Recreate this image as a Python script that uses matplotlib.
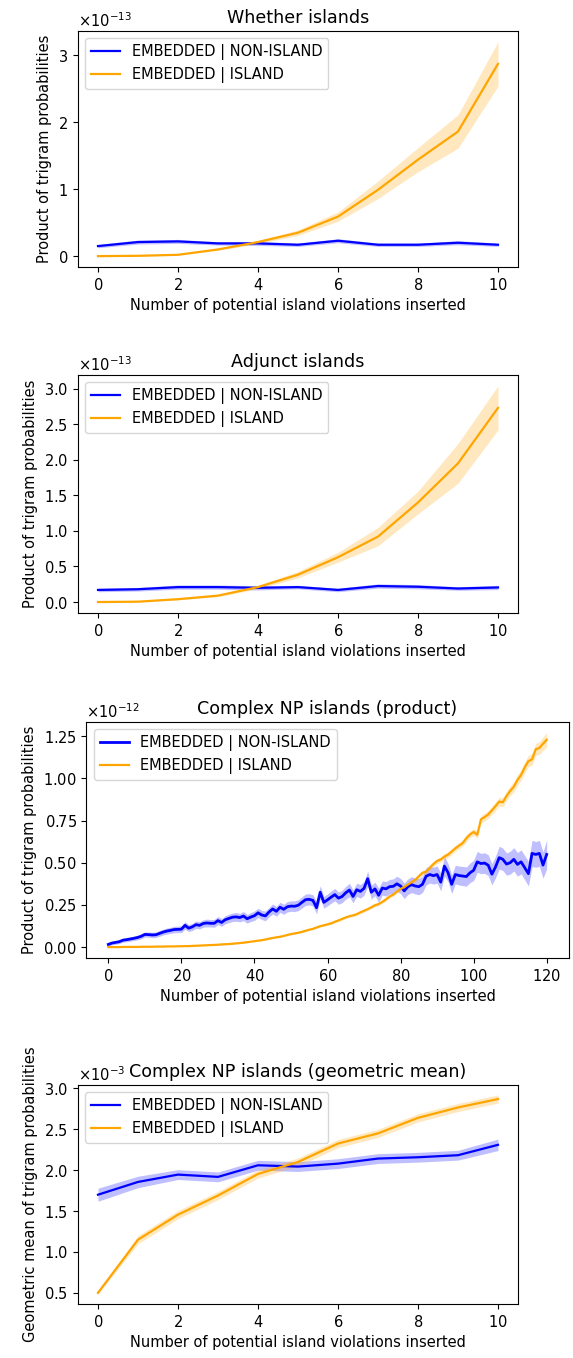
import matplotlib
matplotlib.use("Agg")
import matplotlib.pyplot as plt
import numpy as np

plt.rcParams['axes.formatter.use_mathtext'] = True
plt.rcParams['font.size'] = 10.5

xlabel = "Number of potential island violations inserted"
lab_non = "EMBEDDED | NON-ISLAND"
lab_isl = "EMBEDDED | ISLAND"

# panel 1: Whether islands (x 1e-13)
x_small = list(range(11))
wh_non = [0.15, 0.21, 0.22, 0.19, 0.19, 0.17, 0.23, 0.17, 0.17, 0.20, 0.17]
wh_non_err = [0.025, 0.03, 0.03, 0.025, 0.03, 0.025, 0.03, 0.025, 0.025, 0.03, 0.025]
wh_isl = [0.0, 0.005, 0.02, 0.10, 0.21, 0.35, 0.59, 0.99, 1.44, 1.86, 2.87]
wh_isl_err = [0.002, 0.003, 0.006, 0.015, 0.025, 0.04, 0.07, 0.13, 0.18, 0.25, 0.33]

# panel 2: Adjunct islands (x 1e-13)
adj_non = [0.17, 0.18, 0.21, 0.21, 0.20, 0.21, 0.17, 0.225, 0.215, 0.19, 0.205]
adj_non_err = [0.025, 0.025, 0.03, 0.03, 0.03, 0.025, 0.025, 0.03, 0.03, 0.025, 0.03]
adj_isl = [0.0, 0.005, 0.04, 0.09, 0.21, 0.385, 0.63, 0.92, 1.40, 1.95, 2.73]
adj_isl_err = [0.002, 0.003, 0.008, 0.015, 0.025, 0.045, 0.07, 0.13, 0.16, 0.28, 0.31]

# panel 3: Complex NP islands (product) (x 1e-12)
x_big = list(range(121))
np_non = [0.016, 0.024, 0.028, 0.032, 0.041, 0.044, 0.048, 0.052, 0.057, 0.064,
          0.075, 0.074, 0.072, 0.073, 0.081, 0.089, 0.095, 0.099, 0.104, 0.105,
          0.106, 0.129, 0.112, 0.120, 0.133, 0.129, 0.140, 0.143, 0.141, 0.141,
          0.157, 0.146, 0.162, 0.170, 0.177, 0.179, 0.175, 0.184, 0.168, 0.178,
          0.186, 0.203, 0.190, 0.185, 0.208, 0.226, 0.212, 0.236, 0.224, 0.239,
          0.243, 0.242, 0.248, 0.265, 0.281, 0.283, 0.277, 0.233, 0.325, 0.265,
          0.280, 0.296, 0.311, 0.290, 0.300, 0.322, 0.338, 0.300, 0.340, 0.330,
          0.348, 0.405, 0.325, 0.345, 0.307, 0.350, 0.345, 0.358, 0.360, 0.375,
          0.362, 0.333, 0.358, 0.370, 0.362, 0.358, 0.372, 0.420, 0.430, 0.423,
          0.430, 0.385, 0.480, 0.441, 0.372, 0.430, 0.424, 0.421, 0.418, 0.440,
          0.455, 0.505, 0.495, 0.498, 0.485, 0.432, 0.475, 0.530, 0.520, 0.492,
          0.500, 0.520, 0.490, 0.505, 0.470, 0.435, 0.555, 0.549, 0.555, 0.486,
          0.549]
np_non_err = [0.010, 0.010, 0.011, 0.011, 0.012, 0.012, 0.013, 0.013, 0.014, 0.015,
              0.015, 0.015, 0.016, 0.016, 0.017, 0.017, 0.018, 0.018, 0.019, 0.019,
              0.020, 0.022, 0.020, 0.021, 0.022, 0.021, 0.022, 0.023, 0.022, 0.023,
              0.024, 0.023, 0.024, 0.025, 0.025, 0.026, 0.025, 0.027, 0.026, 0.026,
              0.028, 0.027, 0.027, 0.029, 0.028, 0.030, 0.029, 0.030, 0.030, 0.031,
              0.031, 0.032, 0.032, 0.033, 0.034, 0.033, 0.034, 0.036, 0.038, 0.035,
              0.035, 0.036, 0.037, 0.036, 0.037, 0.038, 0.040, 0.038, 0.039, 0.040,
              0.040, 0.045, 0.041, 0.040, 0.042, 0.042, 0.043, 0.043, 0.044, 0.045,
              0.045, 0.046, 0.046, 0.047, 0.047, 0.048, 0.048, 0.052, 0.050, 0.050,
              0.051, 0.052, 0.058, 0.054, 0.055, 0.055, 0.056, 0.057, 0.057, 0.058,
              0.060, 0.062, 0.060, 0.061, 0.062, 0.063, 0.064, 0.068, 0.066, 0.066,
              0.068, 0.069, 0.070, 0.071, 0.072, 0.073, 0.078, 0.076, 0.077, 0.078,
              0.085]
np_isl = [0.000, 0.000, 0.000, 0.000, 0.001, 0.001, 0.001, 0.001, 0.001, 0.002,
          0.002, 0.002, 0.002, 0.003, 0.003, 0.003, 0.004, 0.004, 0.004, 0.005,
          0.005, 0.006, 0.006, 0.007, 0.008, 0.009, 0.010, 0.011, 0.012, 0.013,
          0.014, 0.016, 0.017, 0.018, 0.020, 0.022, 0.024, 0.026, 0.029, 0.032,
          0.035, 0.038, 0.041, 0.045, 0.050, 0.054, 0.058, 0.061, 0.066, 0.072,
          0.077, 0.081, 0.085, 0.090, 0.097, 0.103, 0.108, 0.116, 0.124, 0.129,
          0.135, 0.141, 0.150, 0.158, 0.167, 0.176, 0.183, 0.188, 0.195, 0.206,
          0.215, 0.225, 0.236, 0.248, 0.255, 0.268, 0.283, 0.300, 0.311, 0.329,
          0.345, 0.356, 0.370, 0.385, 0.398, 0.420, 0.440, 0.447, 0.470, 0.492,
          0.510, 0.519, 0.536, 0.548, 0.566, 0.585, 0.601, 0.616, 0.645, 0.667,
          0.682, 0.665, 0.757, 0.770, 0.786, 0.810, 0.835, 0.862, 0.858, 0.895,
          0.925, 0.950, 0.990, 1.020, 1.065, 1.102, 1.112, 1.172, 1.180, 1.205,
          1.228]
np_isl_err = [0.001, 0.001, 0.001, 0.001, 0.001, 0.001, 0.001, 0.001, 0.001, 0.001,
              0.001, 0.001, 0.001, 0.001, 0.001, 0.001, 0.001, 0.001, 0.001, 0.001,
              0.002, 0.002, 0.002, 0.002, 0.002, 0.002, 0.002, 0.002, 0.002, 0.002,
              0.002, 0.002, 0.002, 0.002, 0.002, 0.002, 0.002, 0.002, 0.002, 0.002,
              0.003, 0.003, 0.003, 0.003, 0.003, 0.003, 0.003, 0.004, 0.004, 0.004,
              0.004, 0.004, 0.004, 0.005, 0.005, 0.005, 0.005, 0.005, 0.005, 0.005,
              0.006, 0.006, 0.006, 0.006, 0.007, 0.007, 0.007, 0.007, 0.008, 0.008,
              0.008, 0.008, 0.009, 0.009, 0.009, 0.009, 0.010, 0.010, 0.010, 0.010,
              0.011, 0.011, 0.012, 0.012, 0.013, 0.013, 0.014, 0.014, 0.015, 0.015,
              0.016, 0.016, 0.017, 0.017, 0.018, 0.018, 0.019, 0.019, 0.020, 0.020,
              0.021, 0.022, 0.023, 0.023, 0.024, 0.025, 0.026, 0.026, 0.027, 0.028,
              0.029, 0.030, 0.031, 0.032, 0.033, 0.034, 0.035, 0.036, 0.038, 0.040,
              0.042]

# panel 4: Complex NP islands (geometric mean) (x 1e-3)
gm_non = [1.70, 1.856, 1.946, 1.918, 2.06, 2.044, 2.08, 2.142, 2.158, 2.183, 2.31]
gm_non_err = [0.08, 0.07, 0.06, 0.06, 0.06, 0.06, 0.06, 0.06, 0.06, 0.06, 0.07]
gm_isl = [0.50, 1.15, 1.456, 1.69, 1.954, 2.10, 2.326, 2.45, 2.64, 2.767, 2.87]
gm_isl_err = [0.015, 0.05, 0.05, 0.05, 0.05, 0.05, 0.05, 0.05, 0.05, 0.05, 0.05]

panels = [
    ("Whether islands", "Product of trigram probabilities", x_small, 1e-13,
     wh_non, wh_non_err, wh_isl, wh_isl_err, (78, 518, 31, 267), 1.0, 1.6),
    ("Adjunct islands", "Product of trigram probabilities", x_small, 1e-13,
     adj_non, adj_non_err, adj_isl, adj_isl_err, (78, 518, 375, 613), 0.5, 1.6),
    ("Complex NP islands (product)", "Product of trigram probabilities", x_big, 1e-12,
     np_non, np_non_err, np_isl, np_isl_err, (86.4, 568.6, 722, 958), 0.25, 2.0),
    ("Complex NP islands (geometric mean)", "Geometric mean of trigram probabilities", x_small, 1e-3,
     gm_non, gm_non_err, gm_isl, gm_isl_err, (78, 518, 1085, 1304), 0.5, 1.6),
]

W, H = 573, 1358
fig = plt.figure(figsize=(W / 100, H / 100), dpi=100)

for title, ylab, xs, scale, non, non_err, isl, isl_err, (l, r, t, b), ystep, blw in panels:
    ax = fig.add_axes([l / W, 1 - b / H, (r - l) / W, (b - t) / H])
    xs = np.array(xs)
    for vals, errs, col, lab, lw in [(non, non_err, "blue", lab_non, blw),
                                     (isl, isl_err, "orange", lab_isl, 1.6)]:
        v = np.array(vals) * scale
        e = np.array(errs) * scale
        ax.plot(xs, v, color=col, lw=lw, label=lab)
        ax.fill_between(xs, v - e, v + e, color=col, alpha=0.25, lw=0)
    ax.yaxis.set_major_locator(plt.MultipleLocator(ystep * scale))
    ax.ticklabel_format(axis='y', style='sci', scilimits=(0, 0))
    ax.set_title(title)
    ax.set_xlabel(xlabel)
    ax.set_ylabel(ylab)
    ax.legend(loc="upper left")

fig.savefig("out.png", dpi=100)
